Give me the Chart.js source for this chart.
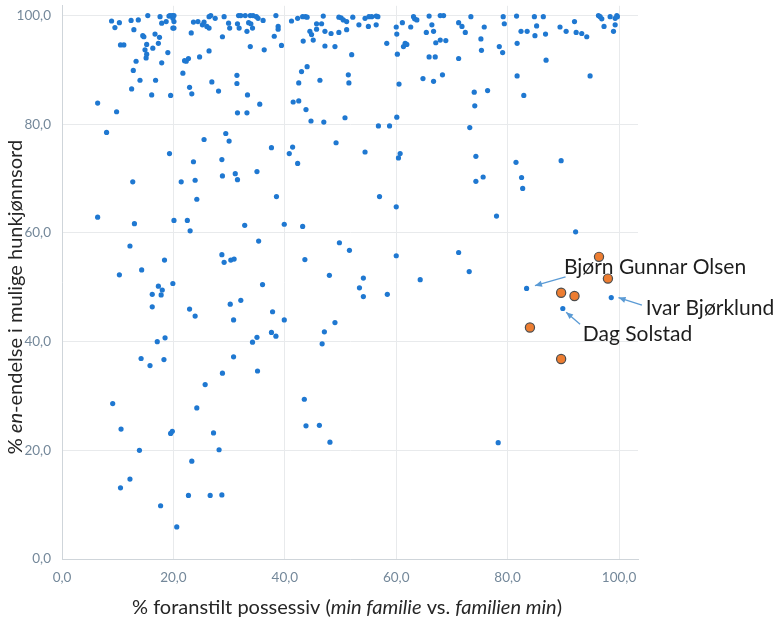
<!DOCTYPE html>
<html><head><meta charset="utf-8">
<script src="https://cdn.jsdelivr.net/npm/chart.js@4.4.1/dist/chart.umd.min.js"></script>
<style>html,body{margin:0;padding:0;background:#fff}#wrap{width:782px;height:625px}</style>
</head><body><div id="wrap"><canvas id="c" width="782" height="625"></canvas></div>
<script>
// ---- data ----
const blueX = [6.4,8.0,8.9,9.5,10.3,9.8,10.5,11.1,12.4,12.9,13.3,12.8,12.5,14.0,13.7,14.5,14.7,15.2,14.9,15.2,15.1,15.4,16.1,16.3,16.7,17.5,16.8,17.3,17.6,17.9,17.9,19.2,19.4,18.7,19.0,19.5,19.3,19.8,19.9,20.1,20.1,19.9,20.1,21.7,22.0,22.3,22.7,23.2,22.9,23.3,23.6,24.4,24.7,23.6,23.9,21.4,25.5,26.0,26.4,25.2,26.4,26.7,27.5,26.4,26.9,28.1,25.5,28.8,29.1,29.9,30.1,29.4,30.0,28.7,28.8,31.1,31.5,31.4,31.4,31.7,32.1,31.5,31.8,32.9,33.2,33.5,33.9,34.2,33.8,34.3,34.9,35.2,36.1,33.8,36.3,33.2,33.3,31.5,35.5,35.0,37.6,38.4,38.8,38.8,38.1,39.4,41.2,42.3,43.2,43.7,44.0,44.5,44.8,43.3,45.1,43.0,44.0,42.5,41.5,42.5,43.8,44.7,41.4,40.8,42.3,45.7,46.6,46.9,45.7,47.2,48.3,46.3,47.2,49.0,47.0,49.2,49.7,50.1,49.7,50.5,51.1,51.1,52.2,51.4,51.5,52.0,50.8,54.4,53.3,54.4,55.1,55.6,56.4,56.7,56.4,55.0,58.3,56.8,58.8,12.7,24.2,38.5,57.0,
60.0,60.1,60.2,60.5,60.1,60.7,60.4,61.1,62.6,63.1,63.3,63.7,61.6,61.3,61.9,64.8,66.7,68.3,65.9,67.0,65.4,66.7,66.4,67.1,67.9,68.9,65.9,67.9,68.5,71.2,71.8,72.4,71.2,73.4,75.8,75.2,75.3,78.5,79.1,74.0,74.1,76.4,73.2,74.3,74.3,75.6,79.2,79.4,81.6,81.7,82.4,83.5,84.8,86.4,85.2,84.9,86.8,86.9,81.7,82.9,81.5,82.5,82.7,89.4,90.5,92.0,92.3,93.3,94.2,94.8,89.6,96.3,96.6,96.9,98.4,99.7,99.6,99.3,97.3,99.3,99.0,
6.4,13.0,12.2,10.3,14.3,18.4,19.9,17.3,18.0,16.2,17.8,16.2,17.1,18.5,14.2,15.8,18.3,20.1,22.5,23.0,22.9,23.9,28.7,29.1,30.3,30.9,32.8,35.3,36.0,30.2,32.1,30.8,30.8,28.8,35.1,34.2,35.0,37.8,37.6,38.4,39.9,39.9,43.2,43.6,49.8,51.6,48.0,54.1,53.4,54.1,49.0,47.1,46.7,58.4,60.0,60.0,
78.0,92.2,71.2,73.1,64.3,83.4,89.9,98.6,
25.7,24.2,9.1,10.6,13.9,19.5,19.8,27.2,28.2,23.3,12.2,10.5,22.7,26.6,28.7,17.7,20.6,43.5,43.8,46.2,48.1,78.3];
const blueY = [83.9,78.5,99.0,97.8,98.7,82.3,94.6,94.6,99.1,97.4,91.6,89.9,86.5,88.1,99.2,96.3,96.1,94.7,93.7,92.9,92.2,100,85.4,94.0,96.6,96.0,88.1,94.9,99.8,98.6,91.3,99.9,100,98.9,93.2,85.3,74.6,100,99.5,100,98.9,97.7,97.7,89.4,91.7,91.6,92.1,96.8,86.8,85.6,98.8,98.9,92.4,73.1,69.7,69.4,98.8,98.0,97.7,98.3,99.8,100,99.5,93.5,87.8,86.1,77.2,96.1,99.8,98.6,97.7,78.3,76.9,73.5,70.5,70.9,69.8,89.0,87.5,100,100,98.5,97.7,100,97.1,98.7,98.5,97.7,100,100,99.8,99.5,99.1,94.3,93.7,82.1,85.4,82.1,83.7,71.3,75.7,100,98.0,97.5,96.2,94.5,99.0,99.5,99.8,99.8,99.7,97.1,96.5,95.3,95.5,89.7,90.6,87.6,84.1,84.3,82.7,80.6,75.8,74.6,72.8,98.5,98.5,99.9,97.5,97.1,96.7,88.1,94.4,94.3,80.4,76.6,99.7,99.6,96.9,99.2,98.9,97.4,99.7,89.1,87.6,92.8,81.2,74.9,98.3,99.5,99.8,99.8,99.9,99.8,98.3,98.0,94.9,79.7,79.7,69.4,66.2,66.7,66.7,
97.9,96.6,92.9,87.4,81.3,74.6,73.8,98.7,97.9,99.8,99.4,99.2,94.9,94.3,94.7,88.4,87.9,89.1,92.4,92.4,96.9,97.1,98.3,95.0,95.5,95.4,99.9,100,100,98.7,98.0,96.9,92.1,99.8,97.9,95.7,93.6,94.3,93.2,85.9,83.4,86.2,79.4,74.1,69.5,70.3,99.8,98.5,99.9,94.9,97.1,97.1,99.8,99.8,98.1,96.3,96.6,91.8,88.9,85.3,73.0,70.2,68.2,97.9,97.1,98.9,96.9,96.7,96.1,88.9,73.3,100,99.8,99.4,99.8,99.8,100,99.5,98.0,98.3,97.1,
62.9,61.7,57.6,52.3,53.2,55.0,50.7,50.2,49.5,48.7,48.6,46.4,40.0,40.7,36.9,35.6,36.7,62.3,62.3,60.4,46.0,44.7,56.0,54.6,55.0,55.2,61.4,58.5,50.5,46.9,47.6,44.0,37.2,34.2,34.6,39.9,40.8,45.5,41.7,41.0,44.0,61.6,61.2,55.1,58.2,56.8,52.2,51.7,49.9,48.3,43.5,41.8,39.6,48.7,55.8,64.8,
63.1,60.2,56.4,52.9,51.4,49.8,46.1,48.1,
32.1,27.8,28.6,23.9,20.0,23.1,23.5,23.2,20.1,18.0,14.7,13.1,11.7,11.7,11.8,9.8,5.9,29.4,24.5,24.6,21.5,21.4];
const orangeX = [96.4,98.0,89.6,92.0,84.0,89.6];
const orangeY = [55.6,51.6,49.0,48.4,42.6,36.8];
const tickValues = [0,20,40,60,80,100];
const xTitleParts = [['% foranstilt possessiv (',false],['min familie',true],[' vs. ',false],['familien min',true],[')',false]];
const yTitleParts = [['% ',false],['en',true],['-endelse i mulige hunkjønnsord',false]];
const noteTexts = ['Bjørn Gunnar Olsen','Ivar Bjørklund','Dag Solstad'];

// ---- annotation placement (data units) ----
const notes = [
  {text: noteTexts[0], tx: 90.1, ty: 53.7, a: [90.4, 51.9, 84.9, 50.3]},
  {text: noteTexts[1], tx: 104.8, ty: 46.2, a: [104.1, 46.7, 99.9, 48.1]},
  {text: noteTexts[2], tx: 93.5, ty: 41.3, a: [93.0, 43.2, 90.5, 45.4]}
];

const FONT = 'Lato, "Open Sans", sans-serif';
const fmt = v => Number(v).toFixed(1).replace('.', ',');
const pts = (xs, ys) => xs.map((x, i) => ({x, y: ys[i]}));

function drawParts(ctx, parts, size) {
  let widths = parts.map(([t, it]) => { ctx.font = (it ? 'italic ' : '') + size + 'px ' + FONT; return ctx.measureText(t).width; });
  const total = widths.reduce((a, b) => a + b, 0);
  let x = -total / 2;
  parts.forEach(([t, it], i) => { ctx.font = (it ? 'italic ' : '') + size + 'px ' + FONT; ctx.fillText(t, x, 0); x += widths[i]; });
}

const extras = {
  id: 'extras',
  afterDraw(chart) {
    const ctx = chart.ctx, xs = chart.scales.x, ys = chart.scales.y;
    ctx.save();
    ctx.fillStyle = '#262626';
    ctx.textBaseline = 'middle';
    ctx.textAlign = 'left';
    ctx.save(); ctx.translate(347, 608); drawParts(ctx, xTitleParts, 20); ctx.restore();
    ctx.save(); ctx.translate(16, 297); ctx.rotate(-Math.PI / 2); drawParts(ctx, yTitleParts, 20); ctx.restore();
    notes.forEach(n => {
      const x1 = xs.getPixelForValue(n.a[0]), y1 = ys.getPixelForValue(n.a[1]);
      const x2 = xs.getPixelForValue(n.a[2]), y2 = ys.getPixelForValue(n.a[3]);
      ctx.strokeStyle = '#5b9bd5'; ctx.fillStyle = '#5b9bd5'; ctx.lineWidth = 1.3;
      ctx.beginPath(); ctx.moveTo(x1, y1); ctx.lineTo(x2, y2); ctx.stroke();
      const ang = Math.atan2(y2 - y1, x2 - x1), L = 7, W = 3;
      ctx.beginPath();
      ctx.moveTo(x2, y2);
      ctx.lineTo(x2 - L * Math.cos(ang) + W * Math.sin(ang), y2 - L * Math.sin(ang) - W * Math.cos(ang));
      ctx.lineTo(x2 - L * Math.cos(ang) - W * Math.sin(ang), y2 - L * Math.sin(ang) + W * Math.cos(ang));
      ctx.closePath(); ctx.fill();
      ctx.fillStyle = '#1e1e1e';
      ctx.font = '21px ' + FONT;
      ctx.fillText(n.text, xs.getPixelForValue(n.tx), ys.getPixelForValue(n.ty));
    });
    ctx.restore();
  }
};

const tickOpts = {
  callback: v => fmt(v),
  color: '#74889a',
  font: {family: FONT, size: 13.5},
  padding: 11
};

new Chart(document.getElementById('c'), {
  type: 'scatter',
  data: {
    datasets: [
      {data: pts(orangeX, orangeY), backgroundColor: '#ed7d31', borderColor: '#4d4d4d', borderWidth: 1.2, pointRadius: 4.6, order: 0},
      {data: pts(blueX, blueY), backgroundColor: '#1f78d1', borderWidth: 0, pointRadius: 2.6, order: 1}
    ]
  },
  options: {
    responsive: false,
    animation: false,
    layout: {padding: {top: 4, right: 144, left: 0, bottom: 0}},
    plugins: {legend: {display: false}, tooltip: {enabled: false}},
    scales: {
      x: {
        type: 'linear', min: 0, max: 103.4,
        afterBuildTicks: a => { a.ticks = tickValues.map(v => ({value: v})); },
        afterFit: s => { s.height = 66; s.paddingLeft = 0; s.paddingRight = 0; },
        ticks: tickOpts,
        grid: {color: '#e8eaec', drawTicks: false},
        border: {color: '#cfd5da'}
      },
      y: {
        type: 'linear', min: 0, max: 101.8,
        afterBuildTicks: a => { a.ticks = tickValues.map(v => ({value: v})); },
        afterFit: s => { s.width = 62; s.paddingTop = 0; s.paddingBottom = 0; },
        ticks: tickOpts,
        grid: {color: '#e8eaec', drawTicks: false},
        border: {color: '#cfd5da'}
      }
    }
  },
  plugins: [extras]
});
</script></body></html>
